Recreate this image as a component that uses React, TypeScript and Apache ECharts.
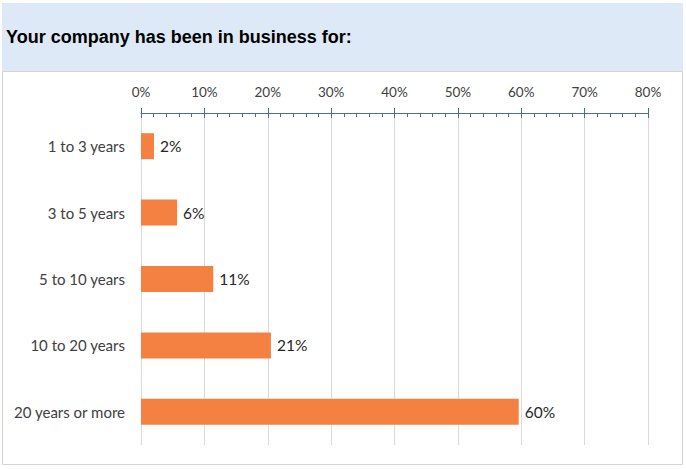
import React, { useEffect, useRef } from "react";
import * as echarts from "echarts";

const categories = ["1 to 3 years", "3 to 5 years", "5 to 10 years", "10 to 20 years", "20 years or more"];
const values = [2.05, 5.7, 11.4, 20.5, 59.6];
const valueLabels = ["2%", "6%", "11%", "21%", "60%"];
const titleText = "Your company has been in business for:";

const FONT = "Lato, 'Open Sans', sans-serif";
const AXIS_BLUE = "#4d6e94";

export default function App() {
  const ref = useRef<HTMLDivElement>(null);
  useEffect(() => {
    if (!ref.current) return;
    const chart = echarts.init(ref.current, undefined, { renderer: "svg" });
    const gridRect = { left: 141, right: 38, top: 113, bottom: 24 };
    chart.setOption({
      animation: false,
      backgroundColor: "#ffffff",
      graphic: [
        { type: "rect", z: -10, shape: { x: 2, y: 3, width: 681, height: 68 }, style: { fill: "#dde9f6" } },
        { type: "rect", z: -10, shape: { x: 2.5, y: 71.5, width: 680, height: 393 }, style: { fill: "#ffffff", stroke: "#d4d4d4", lineWidth: 1 } },
        {
          type: "text",
          z: 10,
          x: 6,
          y: 37,
          style: {
            text: titleText,
            font: "bold 18px 'Liberation Sans', Arial, sans-serif",
            fill: "#000000",
            verticalAlign: "middle",
            align: "left",
          },
        },
      ],
      grid: [
        { ...gridRect, containLabel: false },
        { ...gridRect, containLabel: false },
      ],
      xAxis: [
        {
          gridIndex: 0,
          type: "value",
          position: "top",
          min: 0,
          max: 80,
          interval: 10,
          axisLine: { show: true, lineStyle: { color: AXIS_BLUE, width: 1 } },
          axisTick: { show: true, inside: true, length: 5, lineStyle: { color: AXIS_BLUE } },
          minorTick: { show: true, splitNumber: 5, length: 4, lineStyle: { color: AXIS_BLUE } },
          axisLabel: {
            formatter: "{value}%",
            margin: 14,
            fontSize: 13.5,
            color: "#404040",
            fontFamily: FONT,
          },
          splitLine: { show: true, lineStyle: { color: "#d9d9d9", width: 1 } },
        },
        {
          gridIndex: 1,
          type: "value",
          position: "top",
          min: 0,
          max: 80,
          interval: 10,
          axisLine: { show: false },
          axisTick: { show: true, inside: false, length: 5, lineStyle: { color: AXIS_BLUE } },
          axisLabel: { show: false },
          splitLine: { show: false },
        },
      ],
      yAxis: [
        {
          gridIndex: 0,
          type: "category",
          inverse: true,
          data: categories,
          axisLine: { show: false },
          axisTick: { show: false },
          axisLabel: { margin: 16, fontSize: 15, color: "#404040", fontFamily: FONT },
        },
        {
          gridIndex: 1,
          type: "category",
          inverse: true,
          data: categories,
          show: false,
        },
      ],
      series: [
        {
          type: "bar",
          xAxisIndex: 0,
          yAxisIndex: 0,
          data: values,
          barWidth: 26,
          itemStyle: { color: "#f48142" },
          label: {
            show: true,
            position: "right",
            distance: 6,
            formatter: (p: any) => valueLabels[p.dataIndex],
            fontSize: 15.5,
            color: "#262626",
            fontFamily: FONT,
          },
        },
      ],
    });
    return () => chart.dispose();
  }, []);
  return <div ref={ref} style={{ position: "absolute", left: 0, top: 0, width: 686, height: 469 }} />;
}
